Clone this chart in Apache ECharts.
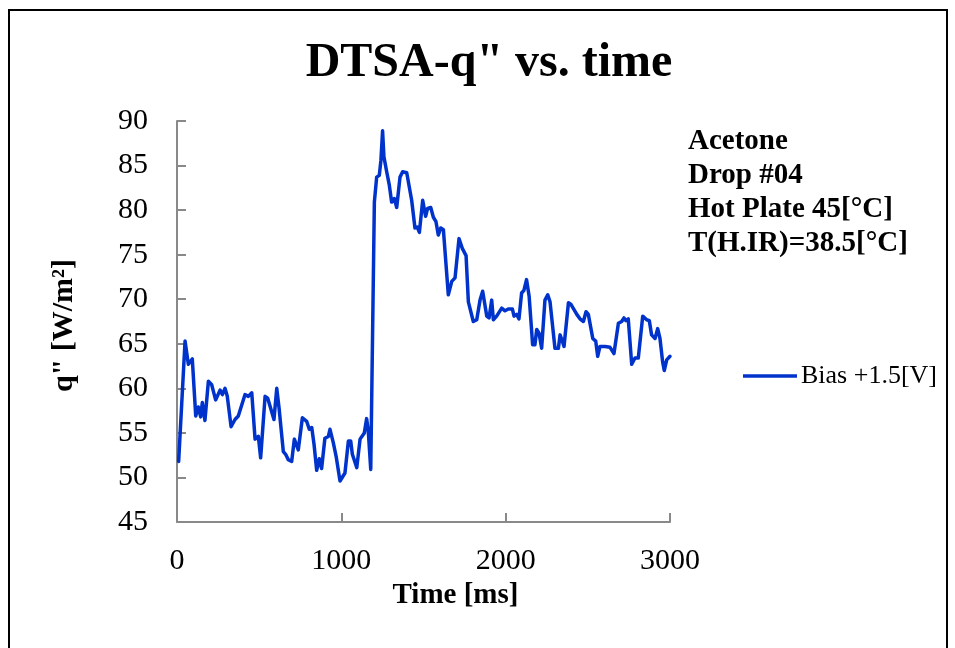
<!DOCTYPE html>
<html>
<head>
<meta charset="utf-8">
<script src="https://cdn.jsdelivr.net/npm/echarts@6/dist/echarts.min.js"></script>
<style>
  html, body { margin: 0; padding: 0; background: #fff; }
  #chart { width: 955px; height: 648px; }
</style>
</head>
<body>
<div id="chart"></div>
<script>
// Heat flux (DTSA) time series, bias +1.5 V
const times = [
  10, 49, 69, 79, 93, 114, 130, 144, 154, 170, 191, 211, 221, 235, 262, 276, 292, 306,
  329, 353, 373, 414, 434, 455, 475, 495, 509, 536, 552, 590, 607, 621, 633, 647, 661,
  677, 698, 714, 738, 763, 789, 805, 820, 834, 850, 866, 880, 900, 921, 931, 951, 968,
  992, 1022, 1043, 1057, 1067, 1094, 1114, 1140, 1154, 1164, 1179, 1201, 1215, 1231,
  1241, 1251, 1259, 1276, 1292, 1306, 1322, 1337, 1357, 1373, 1398, 1428, 1448, 1462,
  1475, 1495, 1513, 1525, 1544, 1560, 1576, 1590, 1605, 1621, 1651, 1672, 1692, 1716,
  1736, 1759, 1773, 1803, 1824, 1844, 1860, 1870, 1885, 1899, 1915, 1925, 1945, 1976,
  1996, 2016, 2041, 2051, 2067, 2081, 2097, 2111, 2127, 2143, 2164, 2178, 2189, 2203,
  2219, 2239, 2256, 2270, 2300, 2321, 2331, 2341, 2355, 2382, 2398, 2408, 2433, 2452,
  2473, 2489, 2503, 2530, 2548, 2560, 2574, 2605, 2635, 2659, 2686, 2706, 2720, 2732,
  2746, 2767, 2787, 2807, 2834, 2858, 2874, 2888, 2909, 2925, 2939, 2955, 2965, 2980, 3000
];
const heatFlux = [
  51.8, 65.3, 62.7, 62.5, 63.3, 56.9, 57.9, 56.8, 58.4, 56.4, 60.8, 60.4, 60.2, 58.7, 59.8, 59.3, 60.0, 59.1,
  55.7, 56.5, 56.9, 59.3, 59.1, 59.5, 54.3, 54.6, 52.2, 59.1, 58.9, 56.5, 60.0, 57.8, 57.6, 52.9, 52.6,
  52.0, 51.8, 54.3, 53.1, 56.7, 56.3, 55.4, 55.6, 53.7, 50.8, 52.1, 51.0, 54.4, 54.6, 55.4, 53.9, 52.4,
  49.6, 50.5, 54.1, 54.1, 52.6, 51.1, 54.3, 55.0, 56.6, 55.2, 50.9, 80.9, 83.7, 83.9,
  85.6, 88.9, 86.0, 84.3, 82.8, 80.9, 81.3, 80.3, 83.7, 84.3, 84.2, 81.1, 78.0, 78.1,
  77.5, 81.1, 79.3, 80.2, 80.3, 79.2, 78.7, 77.2, 78.0, 77.8, 70.5, 72.0, 72.4, 76.8,
  75.7, 74.9, 69.7, 67.5, 67.7, 69.9, 70.9, 70.7, 68.1, 67.9, 69.9, 67.7, 68.1, 69.0,
  68.7, 68.9, 68.9, 68.1, 68.3, 67.8, 70.7, 71.0, 72.2, 70.3, 64.9, 64.9, 66.6, 66.2,
  64.5, 69.9, 70.5, 69.7, 64.5, 64.5, 66.0, 65.5, 64.7, 69.6, 69.4, 69.6, 68.3, 67.8,
  67.5, 68.6, 68.3, 65.6, 65.3, 63.6, 64.7, 64.7, 64.6, 63.9, 67.3, 67.5, 67.9, 67.6,
  67.8, 62.7, 63.4, 63.4, 68.1, 67.7, 67.6, 66.0, 65.6, 66.7, 65.6, 63.0, 62.0, 63.2, 63.6
];
const seriesName = 'Bias +1.5[V]';
const noteLines = ['Acetone', 'Drop #04', 'Hot Plate 45[°C]', 'T(H.IR)=38.5[°C]'];

const serif = "'Liberation Serif', 'Times New Roman', serif";
const axisGray = '#898989';
const lineBlue = '#0033cc';

const chart = echarts.init(document.getElementById('chart'), null, { renderer: 'canvas' });
chart.setOption({
  backgroundColor: '#ffffff',
  animation: false,
  title: {
    text: 'DTSA-q" vs. time',
    left: 484,
    top: 35,
    textAlign: 'center',
    textStyle: { fontFamily: serif, fontWeight: 'bold', fontSize: 48, color: '#000' }
  },
  grid: { left: 177, top: 121, right: 285, bottom: 126, containLabel: false },
  legend: {
    left: 743,
    top: 363,
    padding: 0,
    itemWidth: 54,
    itemHeight: 14,
    itemGap: 10,
    icon: 'path://M0,5.5 L54,5.5 L54,9 L0,9 Z',
    textStyle: { fontFamily: serif, fontSize: 26, color: '#000', padding: [0, 0, 0, -1] },
    data: [seriesName]
  },
  xAxis: {
    type: 'value',
    min: 0,
    max: 3000,
    interval: 1000,
    name: 'Time [ms]',
    nameLocation: 'middle',
    nameGap: 54,
    nameTextStyle: {
      fontFamily: serif, fontWeight: 'bold', fontSize: 29, color: '#000',
      padding: [0, 0, 0, 64]
    },
    axisLine: { lineStyle: { color: axisGray, width: 2 } },
    axisTick: { inside: true, length: 9, lineStyle: { color: axisGray, width: 2 } },
    axisLabel: {
      fontFamily: serif, fontSize: 30, color: '#000', margin: 24,
      formatter: v => String(v)
    },
    splitLine: { show: false }
  },
  yAxis: {
    type: 'value',
    min: 45,
    max: 90,
    interval: 5,
    name: 'q" [W/m²]',
    nameLocation: 'middle',
    nameGap: 98,
    nameRotate: 90,
    nameTextStyle: {
      fontFamily: serif, fontWeight: 'bold', fontSize: 30, color: '#000',
      padding: [0, 8, 0, 0]
    },
    axisLine: { show: true, lineStyle: { color: axisGray, width: 2 } },
    axisTick: { show: true, inside: true, length: 9, lineStyle: { color: axisGray, width: 2 } },
    axisLabel: { fontFamily: serif, fontSize: 30, color: '#000', margin: 29 },
    splitLine: { show: false }
  },
  graphic: [
    {
      type: 'rect',
      shape: { x: 9, y: 10, width: 938, height: 700 },
      style: { fill: 'none', stroke: '#000', lineWidth: 2 },
      silent: true,
      z: -1
    },
    {
      type: 'text',
      left: 688,
      top: 125,
      style: {
        text: noteLines.join('\n'),
        fontFamily: serif,
        fontWeight: 'bold',
        fontSize: 29,
        lineHeight: 34,
        fill: '#000'
      }
    }
  ],
  series: [
    {
      name: seriesName,
      type: 'line',
      data: times.map((t, i) => [t, heatFlux[i]]),
      symbol: 'none',
      smooth: false,
      lineStyle: { color: lineBlue, width: 3.5, join: 'round', cap: 'round' },
      itemStyle: { color: lineBlue }
    }
  ]
});
</script>
</body>
</html>
